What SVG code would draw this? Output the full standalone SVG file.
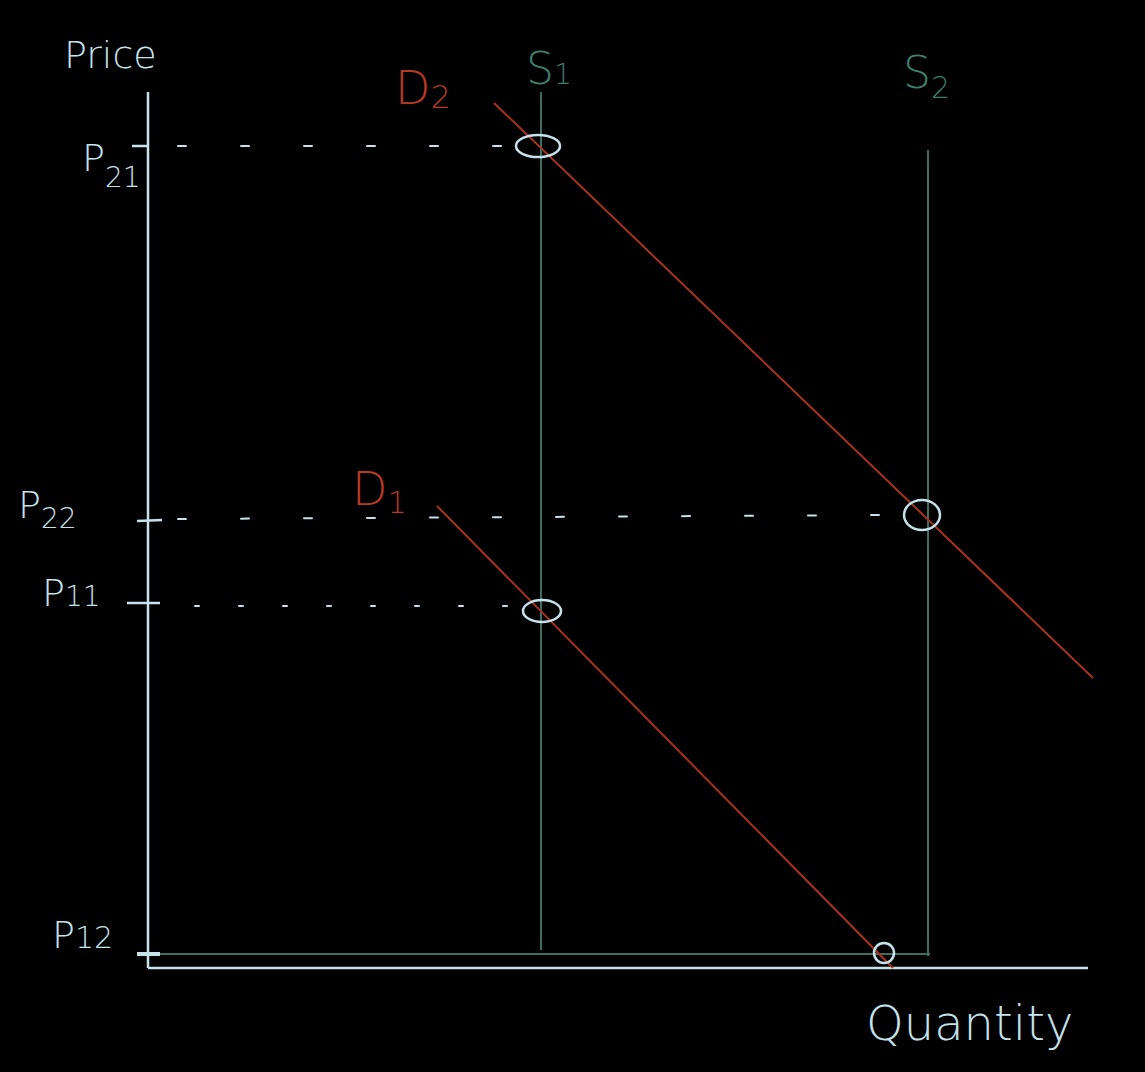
<svg xmlns="http://www.w3.org/2000/svg" width="1145" height="1072" viewBox="0 0 1145 1072">
<style>
.ax{stroke:#c6e2ea;stroke-width:2.5;fill:none}
.sup{stroke:#3d6e62;stroke-width:2;fill:none}
.dem{stroke:#a8321f;stroke-width:2;fill:none}
.dot{stroke:#c6e2ea;stroke-width:2;fill:none;stroke-dasharray:8 55;stroke-linecap:round}
.ring{stroke:#c6e2ea;stroke-width:2.5;fill:none}
.lb{font-family:"DejaVu Sans",sans-serif;font-weight:200;fill:#c6e2ea}
.lbs{font-family:"DejaVu Sans",sans-serif;font-weight:200;fill:#3d7e6c}
.lbd{font-family:"DejaVu Sans",sans-serif;font-weight:200;fill:#b83a24}
</style>
<rect width="1145" height="1072" fill="#000"/>
<g id="connectors">
<line class="ax" x1="148" y1="92" x2="148" y2="968"/>
<line class="ax" x1="148" y1="968" x2="1088" y2="968"/>
<line class="sup" x1="150" y1="954" x2="930" y2="954"/>
<line class="sup" x1="541" y1="92" x2="541" y2="950"/>
<line class="sup" x1="928" y1="150" x2="928" y2="956"/>
<line class="dem" x1="494" y1="103" x2="1093" y2="678"/>
<line class="dem" x1="437" y1="506" x2="893" y2="968"/>
<line class="dot" x1="178" y1="146" x2="510" y2="146"/>
<line class="dot" x1="178" y1="519" x2="890" y2="515"/>
<line class="dot" x1="195" y1="606" x2="515" y2="606" style="stroke-dasharray:4 40"/>
<line class="ax" x1="132" y1="146" x2="148" y2="146"/>
<line class="ax" x1="137" y1="521" x2="162" y2="520"/>
<line class="ax" x1="127" y1="603" x2="160" y2="603"/>
<line class="ax" x1="137" y1="954" x2="160" y2="954" style="stroke-width:4"/>
</g>
<g id="eq1"><ellipse class="ring" cx="538" cy="146" rx="22" ry="11"/></g>
<g id="eq2"><ellipse class="ring" cx="922" cy="515" rx="18" ry="15"/></g>
<g id="eq3"><ellipse class="ring" cx="542" cy="611" rx="19" ry="11"/></g>
<g id="eq4"><circle class="ring" cx="884" cy="953" r="10"/></g>
<g id="labels">
<text class="lb" x="64" y="68" font-size="38">Price</text>
<text class="lb" x="82" y="171" font-size="38">P<tspan font-size="28" dy="16">21</tspan></text>
<text class="lb" x="18" y="518" font-size="38">P<tspan font-size="28" dy="10">22</tspan></text>
<text class="lb" x="42" y="606" font-size="38">P<tspan font-size="28">11</tspan></text>
<text class="lb" x="52" y="948" font-size="38">P<tspan font-size="30">12</tspan></text>
<text class="lb" x="866" y="1040" font-size="48">Quantity</text>
<text class="lbs" x="526" y="84" font-size="44">S<tspan font-size="28">1</tspan></text>
<text class="lbs" x="903" y="88" font-size="44">S<tspan font-size="30" dy="10">2</tspan></text>
<text class="lbd" x="395" y="104" font-size="46">D<tspan font-size="32" dy="4">2</tspan></text>
<text class="lbd" x="352" y="505" font-size="46">D<tspan font-size="30" dy="8">1</tspan></text>
</g>
</svg>
